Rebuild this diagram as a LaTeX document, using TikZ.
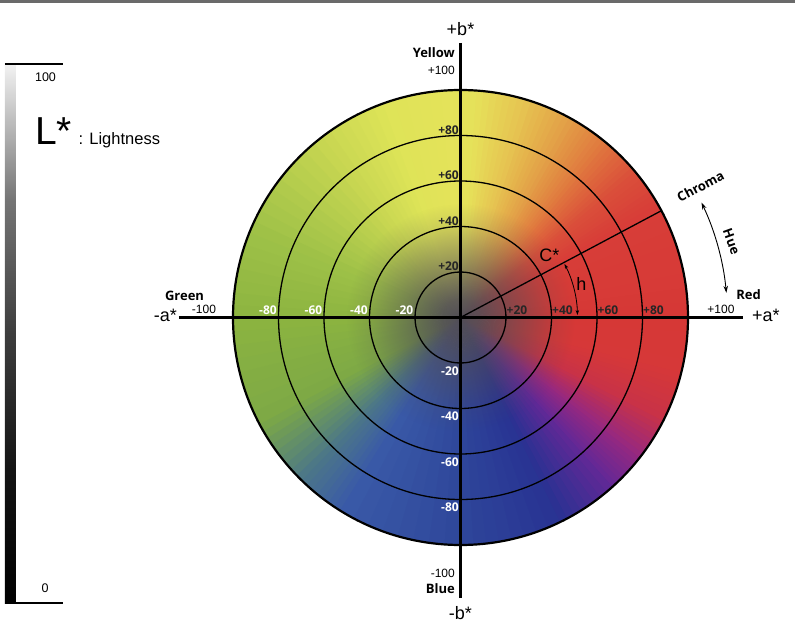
\documentclass[tikz,border=0pt]{standalone}
\usepackage{fontspec}
\setmainfont{Liberation Sans}
\newfontfamily\osb{Open Sans}
\usetikzlibrary{arrows.meta,fadings}

\definecolor{topgray}{RGB}{106,106,106}
\definecolor{centergray}{RGB}{82,78,86}
\definecolor{cR}{RGB}{214,56,54}
\definecolor{cRa}{RGB}{216,62,56}
\definecolor{cOa}{RGB}{218,80,58}
\definecolor{cOb}{RGB}{224,118,62}
\definecolor{cOc}{RGB}{226,155,70}
\definecolor{cOd}{RGB}{230,192,80}
\definecolor{cYa}{RGB}{230,226,90}
\definecolor{cYb}{RGB}{222,228,88}
\definecolor{cYG}{RGB}{196,212,80}
\definecolor{cGa}{RGB}{160,194,72}
\definecolor{cGb}{RGB}{140,180,64}
\definecolor{cGc}{RGB}{124,168,70}
\definecolor{cT}{RGB}{78,122,132}
\definecolor{cBa}{RGB}{58,90,168}
\definecolor{cBb}{RGB}{46,70,154}
\definecolor{cBc}{RGB}{40,50,146}
\definecolor{cPa}{RGB}{100,40,150}
\definecolor{cPb}{RGB}{150,40,128}
\definecolor{cM}{RGB}{200,50,72}
\definecolor{cRb}{RGB}{214,56,56}

\pgfdeclareradialshading{cfsh}{\pgfpointorigin}{color(0bp)=(white); color(2bp)=(white!90!black); color(5bp)=(white!62!black); color(8bp)=(white!34!black); color(10bp)=(white!15!black); color(12.5bp)=(black); color(50bp)=(black)}
\pgfdeclarefading{cfade}{\pgfuseshading{cfsh}}
\pgfdeclareverticalshading{lbar}{100bp}{color(0bp)=(black); color(25bp)=(black); color(37.5bp)=(black!92!white); color(50bp)=(black!76!white); color(62.5bp)=(black!54!white); color(75bp)=(black!5!white); color(100bp)=(black!5!white)}

\begin{document}
\begin{tikzpicture}[x=1pt,y=1pt,
  axisline/.style={line width=2.2pt, black},
  ringline/.style={line width=1.3pt, black},
  numW/.style={font=\osb\bfseries\fontsize{12}{12}\selectfont, text=white, inner sep=0pt},
  numD/.style={font=\osb\bfseries\fontsize{12}{12}\selectfont, text=black!85, inner sep=0pt},
  axlab/.style={font=\fontsize{18}{18}\selectfont, inner sep=0pt},
  boldlab/.style={font=\osb\bfseries\fontsize{13}{13}\selectfont, inner sep=0pt},
  smalllab/.style={font=\fontsize{12}{12}\selectfont, inner sep=0pt},
  arcarrow/.style={line width=0.8pt, {Stealth[length=5pt,width=3.5pt]}-{Stealth[length=5pt,width=3.5pt]}},
  huearrow/.style={line width=0.9pt, {Stealth[length=7pt,width=4.5pt]}-{Stealth[length=7pt,width=4.5pt]}}
]
\useasboundingbox (-460.5,-319.5) rectangle (334.5,317.5);
\fill[topgray] (-460.5,314) rectangle (334.5,317.5);

% colour wheel
\foreach \a/\b/\ca/\cb in {0/30/cR/cRa, 30/40/cRa/cOa, 40/50/cOa/cOb, 50/60/cOb/cOc, 60/72/cOc/cOd, 72/86/cOd/cYa, 86/110/cYa/cYb, 110/130/cYb/cYG, 130/155/cYG/cGa, 155/180/cGa/cGb, 180/208/cGb/cGc, 208/224/cGc/cT, 224/238/cT/cBa, 238/270/cBa/cBb, 270/296/cBb/cBc, 296/312/cBc/cPa, 312/322/cPa/cPb, 322/333/cPb/cM, 333/346/cM/cRb, 346/360/cRb/cR}{
  \foreach \i in {0,...,7}{
    \pgfmathsetmacro\s{\a+(\b-\a)*\i/8}
    \pgfmathsetmacro\e{\a+(\b-\a)*(\i+1)/8+0.7}
    \pgfmathtruncatemacro\p{94-12*\i}
    \fill[\ca!\p!\cb] (0,0) -- (\s:227.5) arc[start angle=\s, end angle=\e, radius=227.5] -- cycle;
  }
}
\fill[centergray, path fading=cfade] (0,0) circle[radius=227.5];

\coordinate (O) at (0,0);
\foreach \r in {45.5,91,136.5,182}{
  \draw[ringline] (O) circle[radius=\r];
}
\draw[axisline] (O) circle[radius=227.5];

\coordinate (W) at (-281.5,0);
\coordinate (E) at (282.5,0);
\coordinate (N) at (0,274.5);
\coordinate (S) at (0,-280.5);
\coordinate (CE) at (28:227.5);
\draw[axisline] (W) -- (E);
\draw[axisline] (N) -- (S);
\draw[ringline] (O) -- (CE);

% ring labels
\foreach \v/\r in {20/45.5,40/91,60/136.5,80/182}{
  \node[numD, anchor=base west] (px\v) at ({\r+0.5},3.5) {+\v};
  \node[numW, anchor=base east] (nx\v) at ({-\r-1.5},3.5) {-\v};
  \node[numD, anchor=base east] (py\v) at (-1.5,{\r+1.3}) {+\v};
  \node[numW, anchor=base east] (ny\v) at (-1.5,{-\r-12}) {-\v};
}

% axis labels
\node[axlab, anchor=base] (bp) at (0,281.5) {+b*};
\node[boldlab, anchor=base east] (yel) at (-5.5,259.5) {Yellow};
\node[smalllab, anchor=base east] (yel100) at (-5.5,243) {+100};
\node[smalllab, anchor=base east] (blu100) at (-5.5,-259.5) {-100};
\node[boldlab, anchor=base east] (blu) at (-5.5,-275.5) {Blue};
\node[axlab, anchor=base] (bm) at (0,-301.5) {-b*};

\node[axlab, anchor=base east] (am) at (-283.5,-4.5) {-a*};
\node[boldlab, anchor=base] (grn) at (-276,16.5) {Green};
\node[smalllab, anchor=base] (grn100) at (-256.5,4.5) {-100};
\node[smalllab, anchor=base] (red100) at (260.5,4.5) {+100};
\node[axlab, anchor=base west] (ap) at (291.5,-4.5) {+a*};
\node[boldlab, anchor=base] (red) at (288,17.5) {Red};

% chroma / hue
\node[font=\fontsize{18}{18}\selectfont, inner sep=0pt] (cstar) at (89,62) {C*};
\node[font=\fontsize{18}{18}\selectfont, inner sep=0pt] (hlab) at (121,34) {h};
\coordinate (hA) at (27.3:117);
\draw[arcarrow] (hA) arc[start angle=27.3, end angle=1.2, radius=117];
\node[boldlab, rotate=28] (chroma) at (240,131) {Chroma};
\node[boldlab, rotate=-70] (hue) at (271,76) {Hue};
\coordinate (hueA) at (25.5:267);
\draw[huearrow] (hueA) arc[start angle=25.5, end angle=5.3, radius=267];

% lightness bar
\coordinate (LB1) at (-455.5,-285.5);
\coordinate (LB2) at (-444.5,253.5);
\shade[shading=lbar] (LB1) rectangle (LB2);
\coordinate (LT1) at (-455.5,253.5);
\coordinate (LT2) at (-397.5,253.5);
\coordinate (LD1) at (-444.5,-285.5);
\coordinate (LD2) at (-397.5,-285.5);
\draw[line width=1.4pt] (LT1) -- (LT2);
\draw[line width=1.4pt] (LD1) -- (LD2);
\node[font=\fontsize{12.5}{12.5}\selectfont, inner sep=0pt] (l100) at (-415,240) {100};
\node[font=\fontsize{12.5}{12.5}\selectfont, inner sep=0pt] (l0) at (-415.5,-270.5) {0};
\node[font=\fontsize{39}{39}\selectfont, inner sep=0pt, anchor=base west] (Lstar) at (-425.5,172.5) {L*};
\node[font=\fontsize{16.5}{16.5}\selectfont, inner sep=0pt, anchor=base west] (light) at (-382,172.5) {: Lightness};
\end{tikzpicture}
\end{document}
